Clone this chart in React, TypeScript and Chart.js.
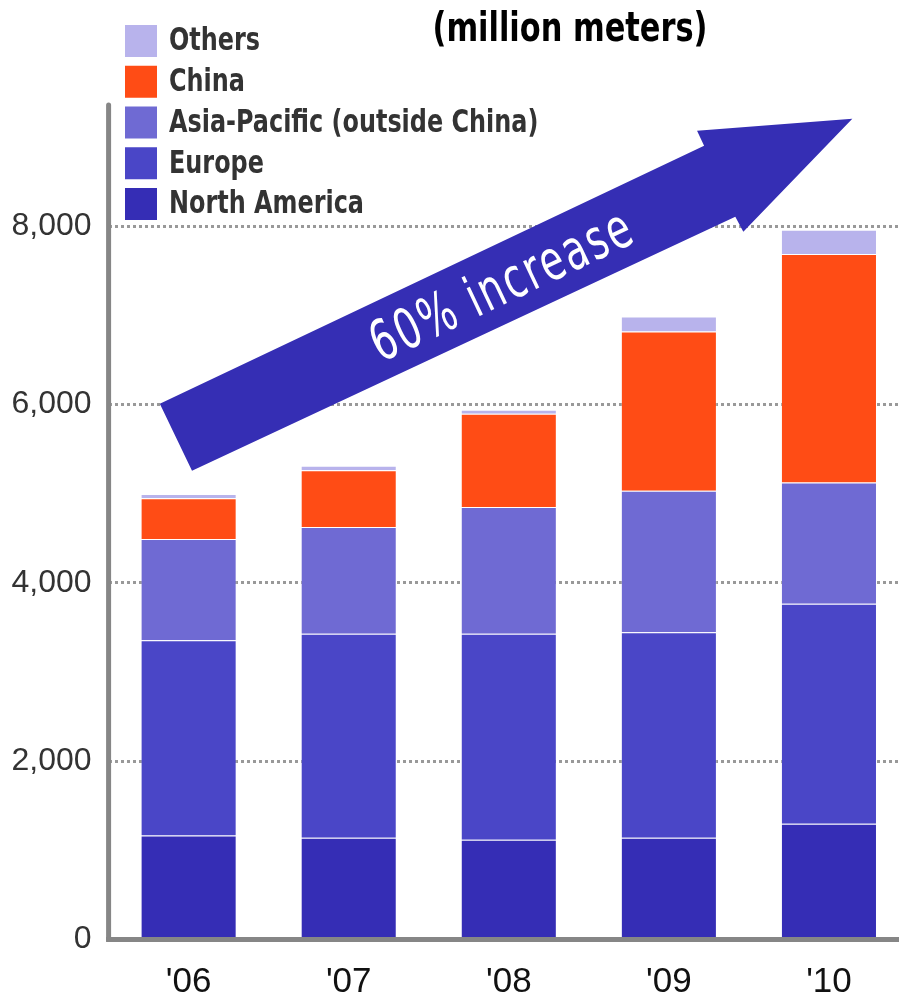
import React, { useEffect, useRef } from "react";
import { Chart, registerables } from "chart.js";

Chart.register(...registerables);

const categories = ["'06", "'07", "'08", "'09", "'10"];
const northAmerica = [1166, 1140, 1118, 1140, 1297];
const europe = [2190, 2288, 2310, 2305, 2470];
const asiaPacific = [1137, 1199, 1423, 1589, 1360];
const china = [457, 635, 1047, 1786, 2561];
const others = [47, 53, 44, 168, 273];
const yTicks = [0, 2000, 4000, 6000, 8000];
const yMax = 9360;

const titleText = "(million meters)";
const arrowLabel = "60% increase";
// arrow outline expressed in (category index, value) units
const arrowIdx = [-0.18, 3.22, 3.176, 4.146, 3.465, 3.415, 0.021];
const arrowVal = [6010, 8902, 9071, 9205, 7938, 8106, 5258];
const arrowLabelIdx = 1.965;
const arrowLabelVal = 7300;

const NARROW = '"Liberation Sans Narrow", "DejaVu Sans Condensed", "Arial Narrow", "Liberation Sans", sans-serif';
const SANS = '"Liberation Sans", Arial, Helvetica, sans-serif';

// draw text squeezed horizontally so that it takes the given width
function fillFitted(ctx: any, text: string, x: number, y: number, scaleX: number, align: string) {
  ctx.save();
  ctx.translate(x, y);
  ctx.scale(scaleX, 1);
  ctx.textAlign = align;
  ctx.fillText(text, 0, 0);
  ctx.restore();
}

const arrowPlugin = {
  id: "arrowPlugin",
  afterDatasetsDraw(chart: any) {
    const { ctx, scales } = chart;
    const xs = scales.x;
    const ys = scales.y;
    const px = (i: number) => {
      const p0 = xs.getPixelForValue(0);
      const p1 = xs.getPixelForValue(1);
      return p0 + (p1 - p0) * i;
    };
    const py = (v: number) => ys.getPixelForValue(v);
    ctx.save();
    ctx.beginPath();
    arrowIdx.forEach((ix, k) => {
      const x = px(ix);
      const y = py(arrowVal[k]);
      if (k === 0) ctx.moveTo(x, y);
      else ctx.lineTo(x, y);
    });
    ctx.closePath();
    ctx.fillStyle = "#352eb4";
    ctx.fill();

    const ax = px(arrowIdx[0]);
    const ay = py(arrowVal[0]);
    const bx = px(arrowIdx[1]);
    const by = py(arrowVal[1]);
    const angle = Math.atan2(by - ay, bx - ax);
    const cx = px(arrowLabelIdx);
    const cy = py(arrowLabelVal);
    ctx.translate(cx, cy);
    ctx.rotate(angle);
    ctx.font = `56px ${NARROW}`;
    try {
      (ctx as any).letterSpacing = "3px";
    } catch (e) {}
    const w = ctx.measureText(arrowLabel).width;
    const target = 285;
    ctx.scale(target / w, 1);
    ctx.fillStyle = "#ffffff";
    ctx.textAlign = "center";
    ctx.textBaseline = "middle";
    ctx.fillText(arrowLabel, 0, 0);
    ctx.restore();
  },
};

const axisPlugin = {
  id: "axisPlugin",
  afterDatasetsDraw(chart: any) {
    const { ctx, chartArea, width } = chart;
    ctx.save();
    ctx.strokeStyle = "#868686";
    ctx.lineWidth = 5;
    ctx.lineCap = "round";
    ctx.beginPath();
    ctx.moveTo(chartArea.left, chartArea.top);
    ctx.lineTo(chartArea.left, chartArea.bottom);
    ctx.stroke();
    ctx.lineCap = "butt";
    ctx.beginPath();
    ctx.moveTo(chartArea.left - 2.5, chartArea.bottom);
    ctx.lineTo(width, chartArea.bottom);
    ctx.stroke();
    ctx.restore();
  },
};

const legendTitlePlugin = {
  id: "legendTitlePlugin",
  afterDraw(chart: any) {
    const { ctx } = chart;
    ctx.save();
    // title
    ctx.font = `bold 40px ${NARROW}`;
    ctx.fillStyle = "#000";
    ctx.textBaseline = "alphabetic";
    const tw = ctx.measureText(titleText).width;
    fillFitted(ctx, titleText, 570, 41, 275 / tw, "center");
    // legend (reverse order)
    const ds = [...chart.data.datasets].reverse();
    ctx.font = `bold 32px ${NARROW}`;
    ctx.textBaseline = "middle";
    const ref = ctx.measureText("North America").width;
    const sx = 195 / ref;
    ds.forEach((d: any, k: number) => {
      const top = 25 + k * 40.75;
      ctx.fillStyle = d.backgroundColor;
      ctx.fillRect(125, top, 32, 32);
      ctx.fillStyle = "#333";
      fillFitted(ctx, d.label, 169, top + 17, sx, "left");
    });
    ctx.restore();
  },
};

export default function App() {
  const ref = useRef<HTMLCanvasElement | null>(null);
  useEffect(() => {
    document.body.style.margin = "0";
    const canvas = ref.current;
    if (!canvas) return;
    const border = "rgba(255,255,255,0.25)";
    const mk = (label: string, data: number[], color: string) => ({
      label,
      data,
      backgroundColor: color,
      borderColor: border,
      borderWidth: 1,
      barPercentage: 0.6,
      categoryPercentage: 1,
    });
    const chart = new Chart(canvas, {
      type: "bar",
      data: {
        labels: categories,
        datasets: [
          mk("North America", northAmerica, "#352db5"),
          mk("Europe", europe, "#4a46c7"),
          mk("Asia-Pacific (outside China)", asiaPacific, "#6f6ad3"),
          mk("China", china, "#ff4c15"),
          mk("Others", others, "#b8b3ec"),
        ],
      },
      options: {
        animation: false,
        responsive: false,
        maintainAspectRatio: false,
        layout: { padding: { top: 105, left: 0, right: 0, bottom: 0 } },
        plugins: {
          legend: { display: false },
          title: { display: false },
          tooltip: { enabled: false },
        },
        scales: {
          x: {
            stacked: true,
            grid: { display: false },
            border: { display: false },
            ticks: {
              font: { family: SANS, size: 35 },
              color: "#111",
              padding: 14,
              maxRotation: 0,
            },
            afterFit: (s: any) => {
              s.height = 56.5;
            },
          },
          y: {
            stacked: true,
            min: 0,
            max: yMax,
            afterBuildTicks: (s: any) => {
              s.ticks = yTicks.map((v) => ({ value: v }));
            },
            ticks: {
              font: { family: SANS, size: 32 },
              color: "#333",
              padding: 17,
              callback: (v: any) => Number(v).toLocaleString("en-US"),
            },
            grid: {
              color: (c: any) => (c.tick && c.tick.value === 0 ? "rgba(0,0,0,0)" : "#999"),
              lineWidth: 3,
              drawTicks: false,
            },
            border: { display: false, dash: [3, 3] },
            afterFit: (s: any) => {
              s.width = 108.6;
            },
          },
        },
      },
      plugins: [arrowPlugin, axisPlugin, legendTitlePlugin],
    });
    return () => chart.destroy();
  }, []);
  return (
    <div style={{ width: 899, height: 996, overflow: "hidden", position: "relative", background: "#fff" }}>
      <canvas ref={ref} width={909} height={996} style={{ display: "block" }} />
    </div>
  );
}
